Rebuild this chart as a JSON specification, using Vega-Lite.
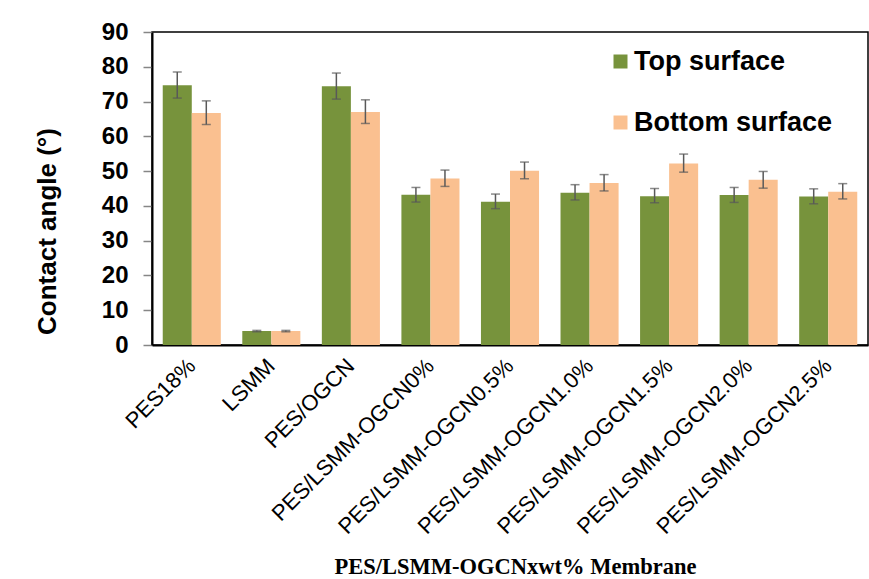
{
  "$schema": "https://vega.github.io/schema/vega-lite/v6.json",
  "width": 716,
  "height": 313,
  "autosize": {"type": "none"},
  "padding": {"left": 152, "top": 32, "right": 1, "bottom": 234},
  "background": "white",
  "config": {
    "view": {"stroke": "black", "strokeWidth": 1.5},
    "font": "Liberation Sans",
    "axisY": {
      "titleFontSize": 26,
      "titleFontWeight": "bold",
      "titleColor": "black",
      "titleY": 199,
      "titlePadding": 41,
      "labelOverlap": false,
      "labelFontSize": 24,
      "labelFontWeight": "bold",
      "labelColor": "black",
      "labelPadding": 15,
      "tickSize": 9,
      "tickColor": "#868686",
      "tickWidth": 1.5,
      "grid": false,
      "domainColor": "black",
      "domainWidth": 2
    }
  },
  "data": {
    "values": [
      {"membrane": "PES18%", "surface": "Top surface", "angle": 74.7, "lo": 71.0, "hi": 78.5},
      {"membrane": "PES18%", "surface": "Bottom surface", "angle": 66.7, "lo": 63.4, "hi": 70.2},
      {"membrane": "LSMM", "surface": "Top surface", "angle": 4.0, "lo": 3.8, "hi": 4.2},
      {"membrane": "LSMM", "surface": "Bottom surface", "angle": 4.0, "lo": 3.8, "hi": 4.2},
      {"membrane": "PES/OGCN", "surface": "Top surface", "angle": 74.4, "lo": 70.7, "hi": 78.2},
      {"membrane": "PES/OGCN", "surface": "Bottom surface", "angle": 67.0, "lo": 63.7, "hi": 70.5},
      {"membrane": "PES/LSMM-OGCN0%", "surface": "Top surface", "angle": 43.2, "lo": 41.1, "hi": 45.3},
      {"membrane": "PES/LSMM-OGCN0%", "surface": "Bottom surface", "angle": 47.9, "lo": 45.6, "hi": 50.3},
      {"membrane": "PES/LSMM-OGCN0.5%", "surface": "Top surface", "angle": 41.2, "lo": 39.2, "hi": 43.4},
      {"membrane": "PES/LSMM-OGCN0.5%", "surface": "Bottom surface", "angle": 50.1, "lo": 47.8, "hi": 52.6},
      {"membrane": "PES/LSMM-OGCN1.0%", "surface": "Top surface", "angle": 43.8, "lo": 41.7, "hi": 46.1},
      {"membrane": "PES/LSMM-OGCN1.0%", "surface": "Bottom surface", "angle": 46.6, "lo": 44.3, "hi": 49.0},
      {"membrane": "PES/LSMM-OGCN1.5%", "surface": "Top surface", "angle": 42.8, "lo": 40.9, "hi": 45.0},
      {"membrane": "PES/LSMM-OGCN1.5%", "surface": "Bottom surface", "angle": 52.2, "lo": 49.7, "hi": 54.9},
      {"membrane": "PES/LSMM-OGCN2.0%", "surface": "Top surface", "angle": 43.1, "lo": 41.0, "hi": 45.3},
      {"membrane": "PES/LSMM-OGCN2.0%", "surface": "Bottom surface", "angle": 47.5, "lo": 45.1, "hi": 49.9},
      {"membrane": "PES/LSMM-OGCN2.5%", "surface": "Top surface", "angle": 42.7, "lo": 40.6, "hi": 44.9},
      {"membrane": "PES/LSMM-OGCN2.5%", "surface": "Bottom surface", "angle": 44.1, "lo": 42.0, "hi": 46.4}
    ]
  },
  "encoding": {
    "x": {
      "field": "membrane",
      "type": "nominal",
      "sort": null,
      "scale": {"paddingInner": 0.27, "paddingOuter": 0.135},
      "axis": {
        "title": "PES/LSMM-OGCNxwt% Membrane",
        "titleFont": "Liberation Serif",
        "titleFontSize": 22.5,
        "titleFontWeight": "bold",
        "titleColor": "black",
        "titleBaseline": "alphabetic",
        "titleY": 228,
        "titleX": 363,
        "labelAngle": -45,
        "labelAlign": "right",
        "labelBaseline": "middle",
        "labelFontSize": 22,
        "labelColor": "black",
        "labelPadding": 17,
        "labelLimit": 400,
        "labelOverlap": false,
        "ticks": false,
        "domainColor": "black",
        "domainWidth": 2
      }
    },
    "xOffset": {"field": "surface", "type": "nominal", "sort": ["Top surface", "Bottom surface"]}
  },
  "layer": [
    {
      "mark": {"type": "bar"},
      "encoding": {
        "y": {
          "field": "angle",
          "type": "quantitative",
          "scale": {"domain": [0, 90], "nice": false},
          "axis": {"title": "Contact angle (°)", "values": [0, 10, 20, 30, 40, 50, 60, 70, 80, 90]}
        },
        "color": {
          "field": "surface",
          "type": "nominal",
          "sort": ["Top surface", "Bottom surface"],
          "scale": {"domain": ["Top surface", "Bottom surface"], "range": ["#77933C", "#FAC090"]},
          "legend": {
            "title": null,
            "orient": "none",
            "legendX": 455,
            "legendY": 16,
            "padding": 0,
            "symbolType": "square",
            "symbolSize": 196,
            "symbolStrokeWidth": 0,
            "labelFontSize": 27,
            "labelFontWeight": "bold",
            "labelColor": "black",
            "labelOffset": 0,
            "rowPadding": 33,
            "labelLimit": 400
          }
        }
      }
    },
    {
      "mark": {"type": "rule", "color": "#595959", "strokeWidth": 1.5},
      "encoding": {
        "y": {"field": "lo", "type": "quantitative", "axis": {"title": "Contact angle (°)", "values": [0, 10, 20, 30, 40, 50, 60, 70, 80, 90]}},
        "y2": {"field": "hi"}
      }
    },
    {
      "mark": {"type": "tick", "color": "#595959", "thickness": 1.5, "size": 9},
      "encoding": {"y": {"field": "lo", "type": "quantitative", "axis": {"title": "Contact angle (°)", "values": [0, 10, 20, 30, 40, 50, 60, 70, 80, 90]}}}
    },
    {
      "mark": {"type": "tick", "color": "#595959", "thickness": 1.5, "size": 9},
      "encoding": {"y": {"field": "hi", "type": "quantitative", "axis": {"title": "Contact angle (°)", "values": [0, 10, 20, 30, 40, 50, 60, 70, 80, 90]}}}
    }
  ]
}
